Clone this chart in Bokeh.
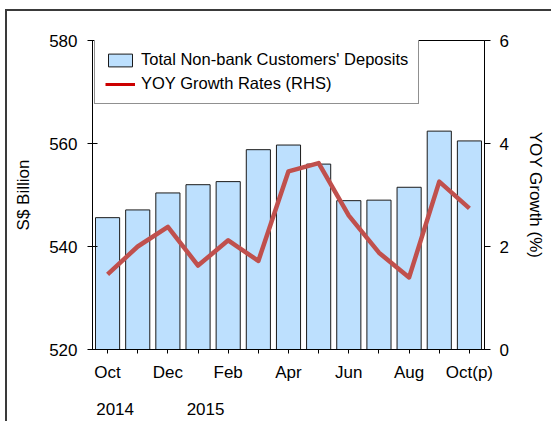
from bokeh.plotting import figure
from bokeh.models import (Range1d, LinearAxis, FixedTicker, Legend, LegendItem,
                          ColumnDataSource)
from bokeh.embed import file_html
from bokeh.resources import INLINE

# ---- data ----
months = ["Oct", "Nov", "Dec", "Jan", "Feb", "Mar", "Apr", "May", "Jun", "Jul", "Aug", "Sep", "Oct(p)"]
shown_month_labels = ["Oct", "", "Dec", "", "Feb", "", "Apr", "", "Jun", "", "Aug", "", "Oct(p)"]
deposits = [545.6, 547.1, 550.4, 552.0, 552.6, 558.8, 559.7, 556.0, 548.9, 549.0, 551.5, 562.4, 560.5]
growth = [1.46, 2.00, 2.38, 1.63, 2.12, 1.72, 3.46, 3.62, 2.60, 1.88, 1.40, 3.26, 2.74]
year_labels = ["2014", "2015"]
year_month_index = [0, 3]
left_ticks = [520, 540, 560, 580]
right_ticks = [0, 2, 4, 6]

FONT = "Liberation Sans"
xs = list(range(len(months)))
src = ColumnDataSource(dict(x=xs, dep=deposits, g=growth))

p = figure(frame_width=392, frame_height=309, output_backend="svg", toolbar_location=None,
           x_range=Range1d(-0.5, len(months) - 0.5), y_range=Range1d(left_ticks[0], left_ticks[-1]),
           min_border_left=85, min_border_right=67, min_border_top=29, min_border_bottom=72,
           background_fill_color="white", border_fill_color="white")
p.styles = {"margin-left": "5px", "margin-top": "9px",
            "border-left": "2px solid #3a3a3a", "border-top": "2px solid #3a3a3a"}
p.extra_y_ranges = {"g": Range1d(right_ticks[0], right_ticks[-1])}
p.grid.visible = False
p.outline_line_color = "black"
p.outline_line_width = 1

bars = p.vbar(x="x", top="dep", bottom=left_ticks[0], width=0.8, source=src,
              fill_color="#bde0fe", line_color="#1a1a1a", line_width=1)
line = p.line(x="x", y="g", source=src, y_range_name="g", line_color="#c0504d",
              line_width=4.5, line_join="round")
legend_line = p.line(x=[0], y=[float("nan")], line_color="#cc0000", line_width=3)


def style_axis(ax, tick_out, tick_in, standoff):
    ax.major_tick_out = tick_out
    ax.major_tick_in = tick_in
    ax.minor_tick_line_color = None
    ax.major_label_standoff = standoff
    ax.major_label_text_font = FONT
    ax.major_label_text_font_size = "17px"
    ax.major_label_text_color = "black"
    ax.axis_line_color = "black"
    ax.major_tick_line_color = "black"
    ax.axis_label_text_font = FONT
    ax.axis_label_text_font_size = "17px"
    ax.axis_label_text_font_style = "normal"
    ax.axis_label_text_color = "black"


xa = p.xaxis[0]
xa.ticker = FixedTicker(ticks=xs)
xa.major_label_overrides = {i: lab for i, lab in enumerate(shown_month_labels)}
style_axis(xa, 4, 0, 9)

# second row of bottom labels: the years
ya_pos = [i + 0.25 for i in year_month_index]
yr_axis = LinearAxis(ticker=FixedTicker(ticks=ya_pos))
yr_axis.major_label_overrides = {v: lab for v, lab in zip(ya_pos, year_labels)}
style_axis(yr_axis, 0, 0, 18)
yr_axis.axis_line_color = None
yr_axis.major_tick_line_color = None
p.add_layout(yr_axis, "below")

ya = p.yaxis[0]
ya.ticker = FixedTicker(ticks=left_ticks)
style_axis(ya, 5, 5, 10)
ya.axis_label = "S$ Billion"
ya.axis_label_standoff = 13

ra = LinearAxis(y_range_name="g", ticker=FixedTicker(ticks=right_ticks))
style_axis(ra, 6, 0, 9)
ra.axis_label = "YOY Growth (%)"
ra.axis_label_standoff = 14
p.add_layout(ra, "right")

legend = Legend(items=[LegendItem(label="Total Non-bank Customers' Deposits", renderers=[bars]),
                       LegendItem(label="YOY Growth Rates (RHS)", renderers=[legend_line])],
                location=(2, 245))
legend.label_text_font = FONT
legend.label_text_font_size = "16.5px"
legend.label_text_color = "black"
legend.glyph_width = 30
legend.glyph_height = 16
legend.label_height = 16
legend.label_standoff = 6
legend.spacing = 5
legend.padding = 10
legend.margin = 0
legend.border_line_color = "#222222"
legend.border_line_width = 1
legend.background_fill_alpha = 1
p.add_layout(legend, "center")

open("out.html", "w").write(file_html(p, INLINE))
